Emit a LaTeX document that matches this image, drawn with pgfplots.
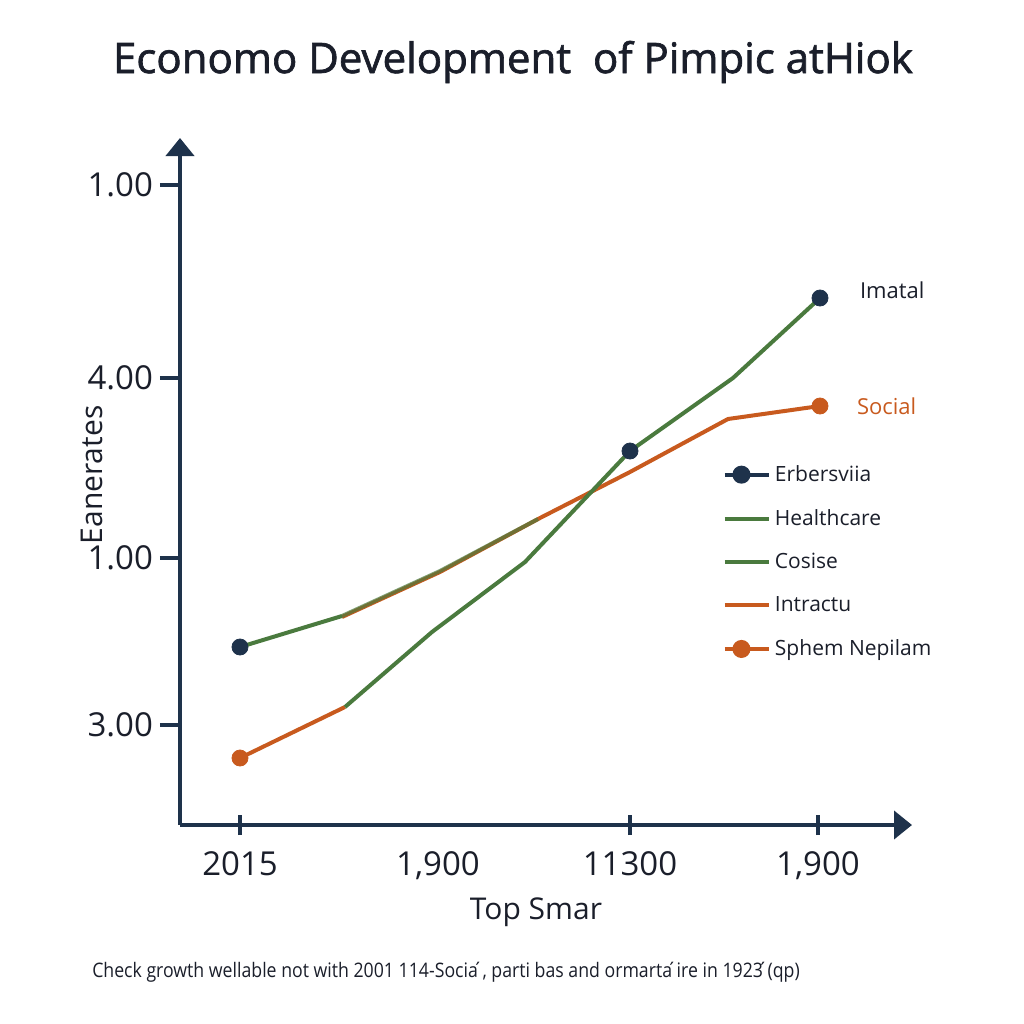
\documentclass[border=0pt]{standalone}
\usepackage{fontspec}
\setmainfont{Open Sans}
\newfontfamily\titlefont{Open Sans}[FakeBold=1.6]
\usepackage{pgfplots}
\pgfplotsset{compat=1.18}
\usetikzlibrary{arrows.meta}

\definecolor{navy}{HTML}{1E324B}
\definecolor{grn}{HTML}{4A7A3E}
\definecolor{org}{HTML}{C85A1E}
\definecolor{ink}{HTML}{1A1E2A}

\begin{document}
\begin{tikzpicture}
\begin{axis}[
    scale only axis,
    width=366pt, height=343.5pt,
    xmin=180, xmax=912,
    ymin=-825, ymax=-138,
    axis lines=left,
    axis line style={navy, line width=2pt, -{Triangle[width=14pt,length=9pt]}},
    xtick={240,630,818},
    xticklabels={2015,11300,{1{,}900}},
    extra x ticks={438},
    extra x tick labels={{1{,}900}},
    extra x tick style={major tick length=0pt, xticklabel style={yshift=-5pt}},
    ytick={-725,-558,-378,-185},
    yticklabels={3.00,1.00,4.00,1.00},
    xtick align=center,
    ytick align=outside,
    major tick length=10pt,
    tick style={navy, line width=2pt},
    ticklabel style={font=\fontsize{16.5}{18}\selectfont, text=ink},
    xticklabel style={yshift=-5pt},
    /pgf/number format/assume math mode=true,
    clip=false,
    legend style={draw=none, fill=none, at={(0.733,0.536)}, anchor=north west,
        font=\fontsize{10.5}{12}\selectfont, text=ink, row sep=8.5pt},
    legend cell align=left,
    legend image code/.code={\path (0pt,0pt) -- (22pt,0pt);
        \draw[mark repeat=2,mark phase=2] plot coordinates {(0pt,0pt)(8.25pt,0pt)(16.5pt,0pt)};},
]
% canvas
\path (axis cs:0,-1024) rectangle (axis cs:1024,0);

% orange series
\addplot[org, line width=2pt, forget plot] coordinates {
    (342,-617) (440,-572) (540,-518) (630,-472) (728,-419) (820,-406)};
\addplot[org, line width=2pt, forget plot] coordinates {
    (240,-758) (345,-707)};
% green series
\addplot[grn, line width=2pt, forget plot] coordinates {
    (240,-647) (342,-616)};
\addplot[grn, line width=2pt, opacity=0.7, forget plot] coordinates {
    (342,-616) (440,-571) (538,-519)};
\addplot[grn, line width=2pt, forget plot] coordinates {
    (345,-707) (432,-632) (525,-562) (630,-451) (733,-378) (820,-298)};
% markers
\addplot[only marks, mark=*, mark size=4pt, navy, forget plot] coordinates {
    (240,-647) (630,-451) (820,-298)};
\addplot[only marks, mark=*, mark size=4pt, org, forget plot] coordinates {
    (240,-758) (820,-406)};

\addlegendimage{navy, line width=2pt, mark=*, mark size=3.5pt}
\addlegendimage{grn, line width=2pt}
\addlegendimage{grn, line width=2pt}
\addlegendimage{org, line width=2pt}
\addlegendimage{org, line width=2pt, mark=*, mark size=3.5pt}
\legend{Erbersviia, Healthcare, Cosise, Intractu, Sphem Nepilam}

\node[anchor=west, text=ink, font=\fontsize{11}{13}\selectfont] at (axis cs:853,-290) {Imatal};
\node[anchor=west, text=org, font=\fontsize{11}{13}\selectfont] at (axis cs:850,-406) {Social};

\node[text=ink, font=\titlefont\fontsize{21}{24}\selectfont] at (axis cs:513,-62) {Economo Development\ \ of Pimpic atHiok};
\node[text=ink, font=\fontsize{15}{18}\selectfont] at (axis cs:536,-912) {Top Smar};
\node[text=ink, rotate=90, font=\fontsize{15}{17}\selectfont] at (axis cs:92,-475) {Eanerates};
\node[anchor=west, text=ink, xscale=0.885, font=\fontsize{10}{12}\selectfont] at (axis cs:86,-972) {Check growth wellable not with 2001 114-Socia\'{}, parti bas and ormarta\'{}ire in 1923\'{}(qp)};
\end{axis}
\end{tikzpicture}
\end{document}
